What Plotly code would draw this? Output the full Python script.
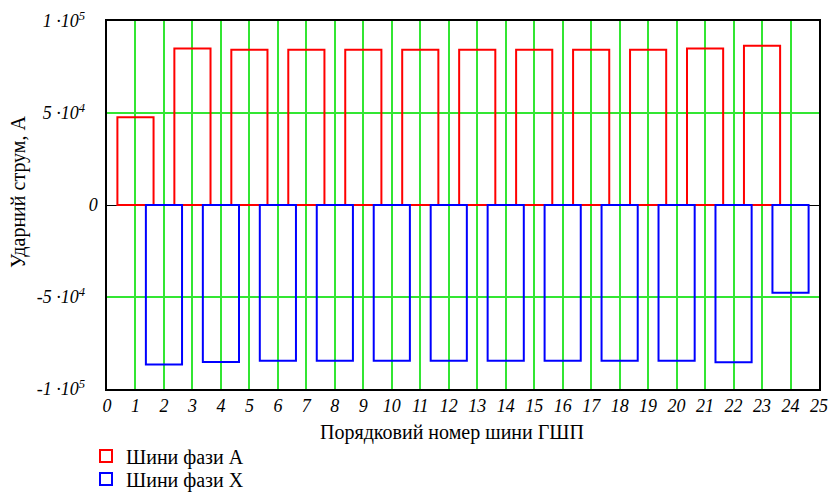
import plotly.graph_objects as go

# Bus numbers and peak short-circuit currents (A)
phase_a_bus = [1, 3, 5, 7, 9, 11, 13, 15, 17, 19, 21, 23]
phase_a_current = [47700, 85100, 84400, 84400, 84400, 84400,
                   84400, 84400, 84400, 84400, 85100, 86500]

phase_x_bus = [2, 4, 6, 8, 10, 12, 14, 16, 18, 20, 22, 24]
phase_x_current = [-86700, -85300, -84700, -84700, -84700, -84700,
                   -84700, -84700, -84700, -84700, -85500, -47700]

# Exponent labels carry a little trailing space, so their mantissas sit left of the plain "0"
PAD = "\u2002\u2009"
y_tick_vals = [-100000, -50000, 0, 50000, 100000]
y_tick_text = ["-1 ·10<sup>5</sup>" + PAD, "-5 ·10<sup>4</sup>" + PAD, "0",
               "5 ·10<sup>4</sup>" + PAD, "1 ·10<sup>5</sup>" + PAD]
x_tick_vals = list(range(0, 26))

SERIF = "Liberation Serif"
GRID = "#33e633"
BAR_W = 1.27
LEFT, RIGHT, TOP, BOTTOM = 107, 20, 21, 107
W, H = 839, 496
PW, PH = W - LEFT - RIGHT, H - TOP - BOTTOM


def px_x(x):
    return (x - LEFT) / PW


def px_y(y):
    return (H - BOTTOM - y) / PH


fig = go.Figure()
fig.add_trace(go.Bar(
    x=phase_a_bus, y=phase_a_current, width=BAR_W,
    name="Шини фази А", legend="legend",
    marker=dict(color="rgba(0,0,0,0)", line=dict(color="#ff0000", width=2)),
))
fig.add_trace(go.Bar(
    x=phase_x_bus, y=phase_x_current, width=BAR_W,
    name="Шини фази Х", legend="legend2",
    marker=dict(color="rgba(0,0,0,0)", line=dict(color="#0000ff", width=2)),
))

legend_common = dict(
    xanchor="left", yanchor="middle",
    font=dict(family=SERIF, size=20, color="black"),
    bgcolor="rgba(0,0,0,0)", itemwidth=30,
)

fig.update_layout(
    width=W, height=H,
    margin=dict(l=LEFT, r=RIGHT, t=TOP, b=BOTTOM, autoexpand=False),
    paper_bgcolor="white", plot_bgcolor="white",
    barmode="overlay",
    font=dict(family=SERIF, size=18, color="black"),
    legend=dict(x=px_x(86), y=px_y(456), **legend_common),
    legend2=dict(x=px_x(86), y=px_y(479), **legend_common),
    showlegend=True,
    annotations=[
        dict(text="Порядковий номер шини ГШП", xref="paper", yref="paper",
             x=px_x(451.5), y=px_y(432), xanchor="center", yanchor="middle",
             showarrow=False, font=dict(family=SERIF, size=20)),
        dict(text="Ударний струм, А", xref="paper", yref="paper",
             x=px_x(18), y=px_y(192), xanchor="center", yanchor="middle",
             textangle=-90, showarrow=False, font=dict(family=SERIF, size=20)),
    ],
)

fig.update_xaxes(
    range=[0, 25], tickvals=x_tick_vals,
    ticktext=[str(v) for v in x_tick_vals],
    tickfont=dict(family=SERIF, size=18, style="italic"),
    showgrid=True, gridcolor=GRID, gridwidth=1.5,
    showline=True, linecolor="black", linewidth=1.5, mirror=True,
    ticks="", zeroline=False, automargin=False,
)
fig.update_yaxes(
    range=[-100000, 100000], tickvals=y_tick_vals, ticktext=y_tick_text,
    tickfont=dict(family=SERIF, size=18, style="italic"),
    showgrid=True, gridcolor=GRID, gridwidth=2,
    showline=True, linecolor="black", linewidth=1.5, mirror=True,
    zeroline=True, zerolinecolor="black", zerolinewidth=1,
    ticks="", automargin=False, ticklabelstandoff=4,
)

fig.write_html("out.html")
